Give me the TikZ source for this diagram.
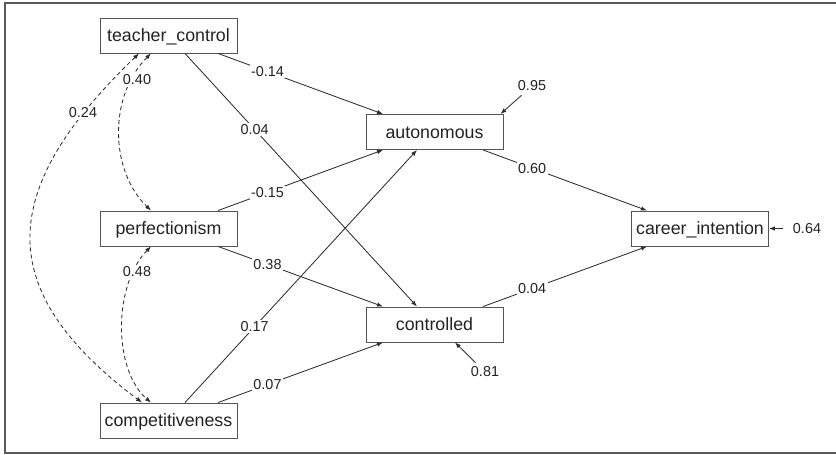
\documentclass[tikz,border=0pt]{standalone}
\usepackage{fontspec}
\setmainfont{Liberation Sans}
\usetikzlibrary{arrows.meta}
\definecolor{ln}{HTML}{2E2E2E}
\definecolor{bx}{HTML}{555555}
\definecolor{fr}{HTML}{5A5A5A}
\definecolor{tx}{HTML}{222222}
\begin{document}
\begin{tikzpicture}[x=1pt,y=-1pt,
  box/.style={draw=bx, line width=0.9pt, minimum width=137pt, minimum height=35pt, inner sep=0pt,
    text height=12.8pt, text depth=0pt, font=\fontsize{17.8}{20}\selectfont, text=tx},
  lbl/.style={fill=white, inner sep=1.5pt, font=\fontsize{14.4}{16}\selectfont, text=tx},
  rlbl/.style={inner sep=4pt, font=\fontsize{14.4}{16}\selectfont, text=tx},
  tip/.tip={Latex[length=6pt,width=4.5pt]},
  arr/.style={draw=ln, line width=0.85pt, -tip},
  cov/.style={draw=ln, line width=0.85pt, dash pattern=on 4pt off 3pt, tip-tip}]
\useasboundingbox (0,0) rectangle (836,455);
\draw[fr, line width=2pt] (836,3) -- (5,3) -- (5,453) -- (836,453);

% nodes
\node[box] (tc) at (168.5,35.5) {teacher\_control};
\node[box] (pf) at (168.5,228.5) {perfectionism};
\node[box] (cp) at (168.5,420.5) {competitiveness};
\node[box] (au) at (434.5,132) {autonomous};
\node[box] (co) at (434.5,324.5) {controlled};
\node[box] (ci) at (700,228.5) {career\_intention};

% regressions
\draw[arr] ([xshift=49.5pt]tc.south) -- node[lbl,pos=0.3]{-0.14} ([xshift=-51.5pt]au.north);
\draw[arr] ([xshift=16.5pt]tc.south) -- node[lbl,pos=0.3]{0.04} ([xshift=-17.5pt]co.north);
\draw[arr] ([xshift=49.5pt]pf.north) -- node[lbl,pos=0.3]{-0.15} ([xshift=-51.5pt]au.south);
\draw[arr] ([xshift=49.5pt]pf.south) -- node[lbl,pos=0.3]{0.38} ([xshift=-51.5pt]co.north);
\draw[arr] ([xshift=16.5pt]cp.north) -- node[lbl,pos=0.3]{0.17} ([xshift=-17.5pt]au.south);
\draw[arr] ([xshift=49.5pt]cp.north) -- node[lbl,pos=0.3]{0.07} ([xshift=-51.5pt]co.south);
\draw[arr] ([xshift=48.5pt]au.south) -- node[lbl,pos=0.3]{0.60} ([xshift=-53pt]ci.north);
\draw[arr] ([xshift=48.5pt]co.north) -- node[lbl,pos=0.3]{0.04} ([xshift=-53pt]ci.south);

% residuals
\node[rlbl] (r1) at (532,86) {0.95};
\node[rlbl] (r2) at (485,372) {0.81};
\node[rlbl, inner xsep=10pt] (r3) at (807,228.5) {0.64};
\draw[arr] (r1) -- ([xshift=-3pt]au.north east);
\draw[arr] (r2) -- ([xshift=20.5pt]co.south);
\draw[arr] (r3) -- (ci.east);

% covariances
\draw[cov] ([xshift=-17.5pt]tc.south) .. controls (109,95) and (109,170) .. ([xshift=-17.5pt]pf.north)
  node[lbl] at (137,80) {0.40};
\draw[cov] ([xshift=-17.5pt]pf.south) .. controls (113,285) and (113,370) .. ([xshift=-17.5pt]cp.north)
  node[lbl] at (137,272) {0.48};
\draw[cov] ([xshift=-29.5pt]tc.south) .. controls (-3,190) and (-8,290) .. ([xshift=-26.5pt]cp.north)
  node[lbl] at (83,113) {0.24};
\end{tikzpicture}
\end{document}
